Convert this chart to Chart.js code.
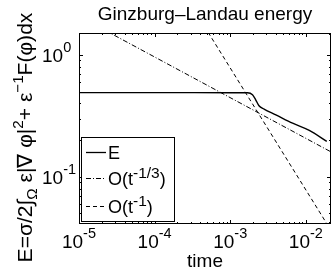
<!DOCTYPE html>
<html>
<head>
<meta charset="utf-8">
<script src="https://cdn.jsdelivr.net/npm/chart.js@4/dist/chart.umd.min.js"></script>
<style>
  html, body { margin: 0; background: #fff; }
</style>
</head>
<body>
<canvas id="js_energyChart" width="332" height="272"></canvas>
<script>
// energy curve (time, E)
const timeE = [1e-5, 1e-4, 1e-3, 1.69e-3, 1.97e-3, 2.17e-3, 2.40e-3, 2.80e-3, 4.01e-3, 6.68e-3, 1.11e-2, 1.89e-2];
const energy = [0.49, 0.49, 0.489, 0.488, 0.470, 0.428, 0.382, 0.359, 0.322, 0.275, 0.240, 0.195];

// reference slopes, straight on log-log so only end points
const timeRef = [1e-5, 0.0215];
const refThird = [2.07, 0.160];
const refOne = [78, 0.0363];

// decade ticks
const xTicks = [1e-5, 1e-4, 1e-3, 1e-2];
const xTickExp = ['-5', '-4', '-3', '-2'];
const yTicks = [1e-1, 1];
const yTickExp = ['-1', '0'];

const legendLabels = [
  [['E', 0]],
  [['O(t', 0], ['-1/3', 1], [')', 0]],
  [['O(t', 0], ['-1', 1], [')', 0]],
];

const FONT = '"Liberation Sans", Arial, Helvetica, sans-serif';
const dashDot = [5, 2, 1, 2];
const dashed = [4, 3];

const toPoints = (xs, ys) => xs.map((x, i) => ({ x, y: ys[i] }));

// draw a run of text pieces; piece = [text, kind] (0 normal, 1 superscript, 2 subscript)
const richWidth = (ctx, parts, size, small) => parts.reduce((w, p) => {
  ctx.font = `${p[1] ? small : size}px ${FONT}`;
  return w + ctx.measureText(p[0]).width;
}, 0);

const drawRich = (ctx, parts, x, y, size, small, rise) => {
  let cx = x;
  parts.forEach((p) => {
    ctx.font = `${p[1] ? small : size}px ${FONT}`;
    let dy = 0;
    if (p[1] === 1) dy = -rise;
    if (p[1] === 2) dy = rise * 0.55;
    ctx.fillText(p[0], cx, y + dy);
    cx += ctx.measureText(p[0]).width;
  });
};

const axesPlugin = {
  id: 'matlabAxes',
  afterDraw(chart) {
    const { ctx, chartArea: a, scales } = chart;
    const xs = scales.x;
    const ys = scales.y;
    ctx.save();
    ctx.fillStyle = '#000';
    ctx.strokeStyle = '#000';
    ctx.lineWidth = 1;
    ctx.textBaseline = 'alphabetic';
    ctx.textAlign = 'left';

    // tick marks, inward on all four sides
    ctx.beginPath();
    for (let d = -5; d <= -1; d++) {
      for (let k = 1; k <= 9; k++) {
        const v = k * Math.pow(10, d);
        if (v < xs.min || v > xs.max) continue;
        const px = Math.round(xs.getPixelForValue(v)) + 0.5;
        const len = k === 1 ? 4 : 2;
        ctx.moveTo(px, a.bottom); ctx.lineTo(px, a.bottom - len);
        ctx.moveTo(px, a.top); ctx.lineTo(px, a.top + len);
      }
    }
    for (let d = -2; d <= 0; d++) {
      for (let k = 1; k <= 9; k++) {
        const v = k * Math.pow(10, d);
        if (v < ys.min || v > ys.max) continue;
        const py = Math.round(ys.getPixelForValue(v)) + 0.5;
        const len = k === 1 ? 4 : 2;
        ctx.moveTo(a.left, py); ctx.lineTo(a.left + len, py);
        ctx.moveTo(a.right, py); ctx.lineTo(a.right - len, py);
      }
    }
    ctx.stroke();

    // frame
    ctx.strokeRect(Math.round(a.left) + 0.5, Math.round(a.top) + 0.5,
      Math.round(a.right - a.left) - 1, Math.round(a.bottom - a.top) - 1);

    // x tick labels
    xTicks.forEach((v, i) => {
      const parts = [['10', 0], [xTickExp[i], 1]];
      const w = richWidth(ctx, parts, 19, 14.5);
      const px = xs.getPixelForValue(v);
      drawRich(ctx, parts, px - w / 2, 248, 19, 14.5, 10);
    });

    // y tick labels
    yTicks.forEach((v, i) => {
      const parts = [['10', 0], [yTickExp[i], 1]];
      const py = ys.getPixelForValue(v);
      drawRich(ctx, parts, 42, py + 7.5, 19, 14.5, 10);
    });

    // title and x label
    ctx.textAlign = 'center';
    ctx.font = `19px ${FONT}`;
    const mid = (a.left + a.right) / 2;
    ctx.fillText('Ginzburg\u2013Landau energy', mid, 19.5);
    ctx.fillText('time', mid, 267);
    ctx.textAlign = 'left';

    // y label, rotated
    const yLabel = [
      ['E=\u03c3/2\u222b', 0], ['\u03a9', 2], [' \u03b5|\u2207 \u03c6|', 0], ['2', 1],
      ['+ \u03b5', 0], ['\u22121', 1], ['F(\u03c6)dx', 0],
    ];
    let size = 18;
    const target = 250;
    size *= target / richWidth(ctx, yLabel, size, size * 0.72);
    const yw = richWidth(ctx, yLabel, size, size * 0.72);
    ctx.save();
    ctx.translate(32, 137.5);
    ctx.rotate(-Math.PI / 2);
    drawRich(ctx, yLabel, -yw / 2, 0, size, size * 0.72, size * 0.45);
    ctx.restore();

    // legend box
    const lx = 81.5;
    const ly = 137.5;
    ctx.fillStyle = '#fff';
    ctx.fillRect(lx, ly, 93, 84);
    ctx.strokeRect(lx, ly, 93, 84);
    ctx.fillStyle = '#000';
    const rows = [152, 178, 206];
    const dashes = [[], dashDot, dashed];
    rows.forEach((ry, i) => {
      ctx.beginPath();
      ctx.setLineDash(dashes[i]);
      ctx.lineWidth = i === 0 ? 1.3 : 1;
      ctx.moveTo(86, ry + 0.5);
      ctx.lineTo(106, ry + 0.5);
      ctx.stroke();
      ctx.setLineDash([]);
      drawRich(ctx, legendLabels[i], 108, ry + 6.5, 18, 15.5, 7);
    });
    ctx.restore();
  },
};

document.addEventListener('DOMContentLoaded', () => {
  const ctx = document.getElementById('js_energyChart');

  new Chart(ctx, {
    type: 'line',
    data: {
      datasets: [
        {
          label: 'O(t^-1/3)',
          data: toPoints(timeRef, refThird),
          borderColor: '#000',
          borderWidth: 1,
          borderDash: dashDot,
        },
        {
          label: 'O(t^-1)',
          data: toPoints(timeRef, refOne),
          borderColor: '#000',
          borderWidth: 1,
          borderDash: dashed,
        },
        {
          label: 'E',
          data: toPoints(timeE, energy),
          borderColor: '#000',
          borderWidth: 1.4,
          cubicInterpolationMode: 'monotone',
        },
      ],
    },
    options: {
      responsive: false,
      animation: false,
      devicePixelRatio: 1,
      parsing: false,
      layout: { padding: { left: 79, right: 1, top: 33, bottom: 48 } },
      elements: { point: { radius: 0 } },
      scales: {
        x: { type: 'logarithmic', min: 1e-5, max: 0.0215, display: false },
        y: { type: 'logarithmic', min: 0.041, max: 1.51, display: false },
      },
      plugins: {
        legend: { display: false },
        tooltip: { enabled: false },
        title: { display: false },
      },
    },
    plugins: [axesPlugin],
  });
});
</script>
</body>
</html>
